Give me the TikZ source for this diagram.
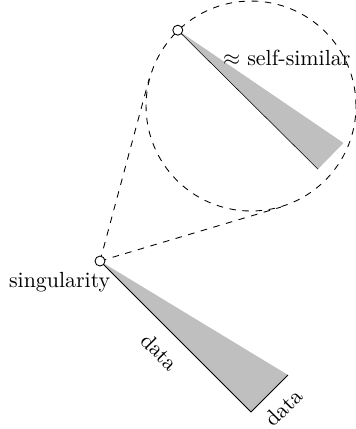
\documentclass[tikz,border=0pt]{standalone}
\usepackage{amsmath, amssymb}
\usetikzlibrary{positioning, calc}

\begin{document}
\begin{tikzpicture}[
        point/.style={draw, circle, fill=white, inner sep=0pt, minimum size=0.16cm},
        lens/.style={draw, dashed, circle, inner sep=0pt, minimum size=3.37cm},
        wedge/.style={fill=gray!50, draw=none},
        guide/.style={dashed}
    ]
        \useasboundingbox (0,0) rectangle (5.714,6.886);

    % the big lens and the points
        \node[lens] (zoom) at (4.029,5.184) {};
        \coordinate (sing) at (1.605,2.696);
        \coordinate (top) at (zoom.134);
        \coordinate (far) at (4.029,0.273);
        \coordinate (wide) at (4.622,0.867);
        \coordinate (topfar) at ($(top)+(2.25,-2.23)$);
        \coordinate (topwide) at ($(top)+(2.66,-1.81)$);

    % wedges
        \fill[wedge] (sing) -- (far) -- (wide) -- cycle;
        \fill[wedge] (top) -- (topfar) -- (topwide) -- cycle;
        \draw (sing) -- node[sloped, below=3pt] {data} (far)
                     -- node[sloped, below=2pt] {data} (wide);
        \draw[line width=0.25pt] (top) -- (topfar);

    % tangents to the lens
        \coordinate (tanA) at (tangent cs:node=zoom,point={(sing)},solution=1);
        \coordinate (tanB) at (tangent cs:node=zoom,point={(sing)},solution=2);
        \draw[guide] (sing) -- (tanA);
        \draw[guide] (sing) -- (tanB);

        \node[point] (singnode) at (sing) {};
        \node[point] (topnode) at (top) {};

        \node[below left=0pt and -0.35cm of singnode] (singlabel) {singularity};
        \node[below right=0.13cm and 0.54cm of topnode] (simlabel) {$\approx$ self-similar};
    \end{tikzpicture}
\end{document}
